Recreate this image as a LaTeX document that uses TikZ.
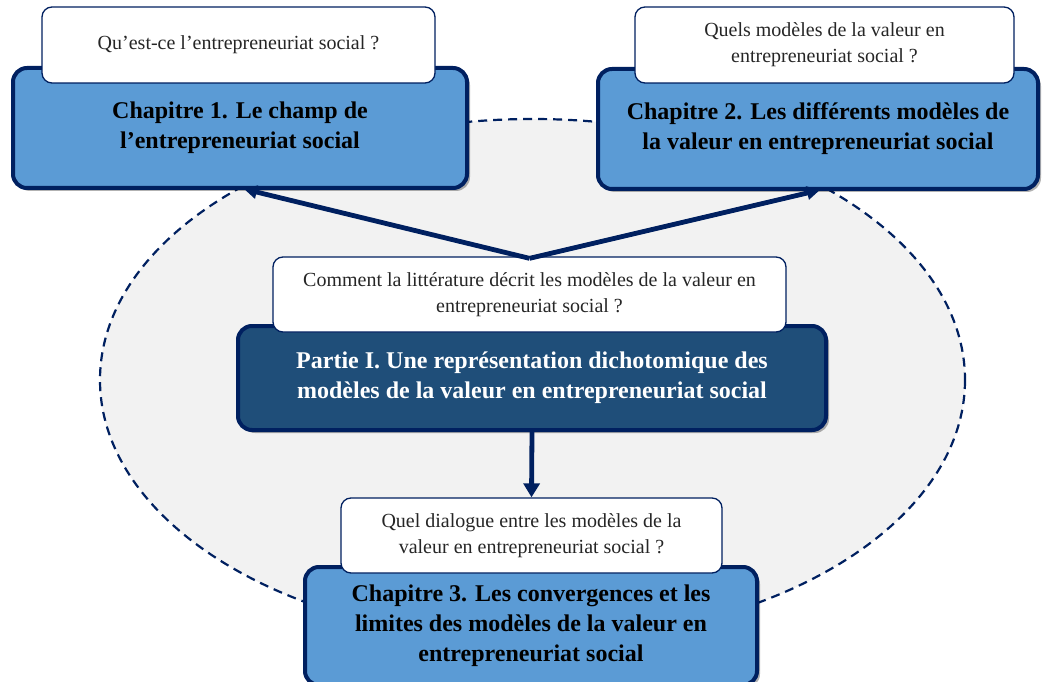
\documentclass[tikz,border=0pt]{standalone}
\usepackage{fontspec}
\setmainfont{Liberation Serif}
\usetikzlibrary{arrows.meta,shadows}
\definecolor{navy}{HTML}{002060}
\definecolor{chapblue}{HTML}{5B9BD5}
\definecolor{partblue}{HTML}{1F4E79}
\definecolor{ellfill}{HTML}{F2F2F2}
\definecolor{qtext}{HTML}{262626}
\tikzset{
  shd/.style={drop shadow={shadow xshift=3pt,shadow yshift=-3pt,opacity=0.3,fill=black}},
  chapbox/.style={shd,draw=navy,line width=4pt,fill=chapblue,rounded corners=14pt,
    align=center,inner sep=0pt,font=\fontsize{24}{30}\selectfont\bfseries,text=black},
  partbox/.style={chapbox,fill=partblue,text=white},
  qbox/.style={draw=navy,line width=1.3pt,fill=white,rounded corners=10pt,
    align=center,inner sep=0pt,font=\fontsize{20}{26}\selectfont,text=qtext},
  bigarrow/.style={draw=navy,line width=4.8pt,-{Triangle[length=13pt,width=13pt]}},
  ell/.style={draw=navy,line width=2.2pt,dash pattern=on 9pt off 6pt,fill=ellfill}
}
\begin{document}
\begin{tikzpicture}[x=1pt,y=-1pt]
\useasboundingbox (0,0) rectangle (1042,682);
\clip (0,0) rectangle (1042,682);
\fill[white] (0,0) rectangle (1042,682);
\path[ell] (532.5,380) ellipse [x radius=432.5, y radius=261];

\node[chapbox,minimum width=454pt,minimum height=120pt] (c1) at (240,128)
  {Chapitre 1. Le champ de\\l’entrepreneuriat social};
\node[qbox,minimum width=393pt,minimum height=76pt] (q1) at (238.5,45)
  {Qu’est-ce l’entrepreneuriat social ?};

\node[chapbox,minimum width=440pt,minimum height=120pt] (c2) at (818,129)
  {Chapitre 2. Les différents modèles de\\la valeur en entrepreneuriat social};
\node[qbox,minimum width=379pt,minimum height=76pt] (q2) at (824.5,45)
  {Quels modèles de la valeur en\\entrepreneuriat social ?};

\node[partbox,minimum width=588pt,minimum height=104pt] (part) at (532,378)
  {Partie I. Une représentation dichotomique des\\modèles de la valeur en entrepreneuriat social};
\node[qbox,minimum width=513pt,minimum height=75pt] (q3) at (529.5,294.5)
  {Comment la littérature décrit les modèles de la valeur en\\entrepreneuriat social ?};

\node[chapbox,minimum width=452pt,minimum height=118pt] (c3) at (531,626)
  {Chapitre 3. Les convergences et les\\limites des modèles de la valeur en\\entrepreneuriat social};
\node[qbox,minimum width=381pt,minimum height=75pt] (q4) at (531.5,535.5)
  {Quel dialogue entre les modèles de la\\valeur en entrepreneuriat social ?};

\coordinate (meet) at ([yshift=-2pt]q3.north);
\draw[bigarrow] (meet) -- ([xshift=4pt,yshift=1pt]c1.south);
\draw[bigarrow] (meet) -- ([xshift=2pt,yshift=1pt]c2.south);
\draw[draw=navy,line width=4.8pt,-{Triangle[length=14pt,width=16pt]}] (part.south) -- (q4.north);
\end{tikzpicture}
\end{document}
